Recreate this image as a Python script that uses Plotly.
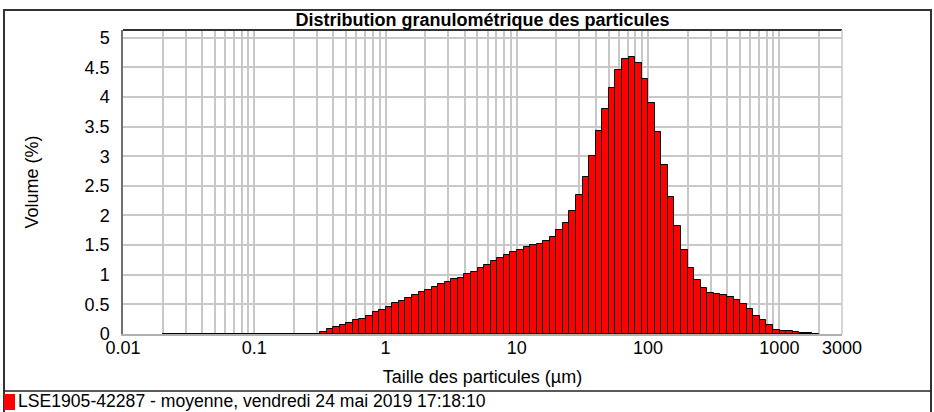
import math
import plotly.graph_objects as go

# Size classes (µm): 100 log-spaced classes from 0.02 to 2000 µm (Mastersizer standard)
class_edges = [0.02 * 10 ** (k / 20) for k in range(101)]

# Volume (%) per class
volume = [
    0, 0, 0, 0, 0, 0, 0, 0, 0, 0, 0, 0, 0, 0, 0, 0, 0, 0, 0, 0, 0, 0, 0, 0,
    0.04, 0.08, 0.11, 0.16, 0.18, 0.23, 0.26, 0.31, 0.37, 0.41,
    0.46, 0.52, 0.56, 0.61, 0.66, 0.71, 0.75, 0.80, 0.85, 0.88,
    0.93, 0.95, 1.01, 1.05, 1.11, 1.16, 1.24, 1.28, 1.34, 1.39,
    1.42, 1.47, 1.50, 1.52, 1.57, 1.64, 1.76, 1.88, 2.08, 2.34,
    2.65, 3.00, 3.43, 3.80, 4.15, 4.45, 4.64, 4.68, 4.57, 4.31,
    3.90, 3.41, 2.85, 2.32, 1.82, 1.42, 1.11, 0.91, 0.78, 0.70,
    0.68, 0.65, 0.62, 0.57, 0.50, 0.42, 0.31, 0.23, 0.15, 0.075,
    0.055, 0.05, 0.03, 0.02, 0.01, 0.005,
]

x_grid = [m * 10 ** e for e in range(-2, 3) for m in range(1, 10)] + [1000, 2000, 3000]
x_labels = {0.01: "0.01", 0.1: "0.1", 1: "1", 10: "10", 100: "100", 1000: "1000", 3000: "3000"}
y_ticks = [i * 0.5 for i in range(11)]
y_labels = ["0", "0.5", "1", "1.5", "2", "2.5", "3", "3.5", "4", "4.5", "5"]

title_text = "Distribution granulométrique des particules"
x_title = "Taille des particules (µm)"
y_title = "Volume (%)"
legend_text = "LSE1905-42287 - moyenne, vendredi 24 mai 2019 17:18:10"

# bars span exactly [edge_k, edge_k+1] (width is in data units on a log axis)
mids = [(class_edges[k] + class_edges[k + 1]) / 2 for k in range(len(volume))]
widths = [class_edges[k + 1] - class_edges[k] for k in range(len(volume))]

FONT = "Liberation Sans, Arial, Helvetica, sans-serif"

fig = go.Figure()
fig.add_trace(go.Bar(
    x=mids, y=volume, width=widths,
    marker=dict(color="#ff0000", line=dict(color="#000000", width=1)),
    showlegend=False, hoverinfo="x+y",
))
# outline along the empty classes
zero_end = next(i for i, v in enumerate(volume) if v > 0)
fig.add_trace(go.Scatter(
    x=class_edges[: zero_end + 1], y=[0] * (zero_end + 1), mode="lines",
    line=dict(color="#000000", width=1.5), showlegend=False, hoverinfo="skip",
))

# pixel -> paper helpers for decorations
L, R, T, B = 123, 842, 30, 334
def px(x):
    return (x - L) / (R - L)
def py(y):
    return (B - y) / (B - T)

fig.update_layout(
    width=934, height=412,
    margin=dict(l=L, r=934 - R, t=T, b=412 - B, autoexpand=False),
    paper_bgcolor="white", plot_bgcolor="white",
    font=dict(family=FONT, size=18, color="black"),
    bargap=0,
    title=dict(text="<b>" + title_text + "</b>", x=0.5, xref="paper", xanchor="center",
               y=1 - 20 / 412, yref="container", yanchor="middle",
               font=dict(family=FONT, size=18, color="black")),
    xaxis=dict(
        type="log", range=[-2, math.log10(3000)],
        tickvals=x_grid, ticktext=[x_labels.get(v, "") for v in x_grid],
        showgrid=True, gridcolor="#c8c8c8", gridwidth=1.5,
        ticks="", showline=True, linecolor="#b0b0b0", linewidth=1.5,
        zeroline=False, tickfont=dict(size=18), automargin=False, ticklabelstandoff=-3,
        title=dict(text=x_title, font=dict(size=18), standoff=13),
    ),
    yaxis=dict(
        range=[0, 5.13], tickvals=y_ticks, ticktext=y_labels,
        showgrid=True, gridcolor="#c8c8c8", gridwidth=1.5,
        ticks="", showline=True, linecolor="#707070", linewidth=1.5,
        zeroline=False, tickfont=dict(size=18), ticklabelstandoff=8, automargin=False,
        title=dict(text=y_title, font=dict(size=18), standoff=41),
    ),
    shapes=[
        dict(type="rect", xref="paper", yref="paper", x0=px(4), x1=px(931), y0=py(414), y1=py(10),
             line=dict(color="#333333", width=2), layer="above"),
        dict(type="line", xref="paper", yref="paper", x0=px(4), x1=px(931), y0=py(391), y1=py(391),
             line=dict(color="#222222", width=1.5)),
        dict(type="line", xref="paper", yref="paper", x0=0, x1=1, y0=1, y1=1,
             line=dict(color="#333333", width=2)),
        dict(type="line", xref="paper", yref="paper", x0=1, x1=1, y0=0, y1=1,
             line=dict(color="#c8c8c8", width=1.5)),
        dict(type="rect", xref="paper", yref="paper", x0=px(4), x1=px(15), y0=py(410), y1=py(394),
             fillcolor="#ff0000", line=dict(color="#ff0000", width=0)),
    ],
    annotations=[
        dict(text=legend_text, xref="paper", yref="paper", x=px(16), y=py(401),
             xanchor="left", yanchor="middle", showarrow=False,
             font=dict(family=FONT, size=17.6, color="black")),
    ],
)

fig.write_html("out.html", config={"displayModeBar": False},
               post_script="document.body.style.margin='0';")
